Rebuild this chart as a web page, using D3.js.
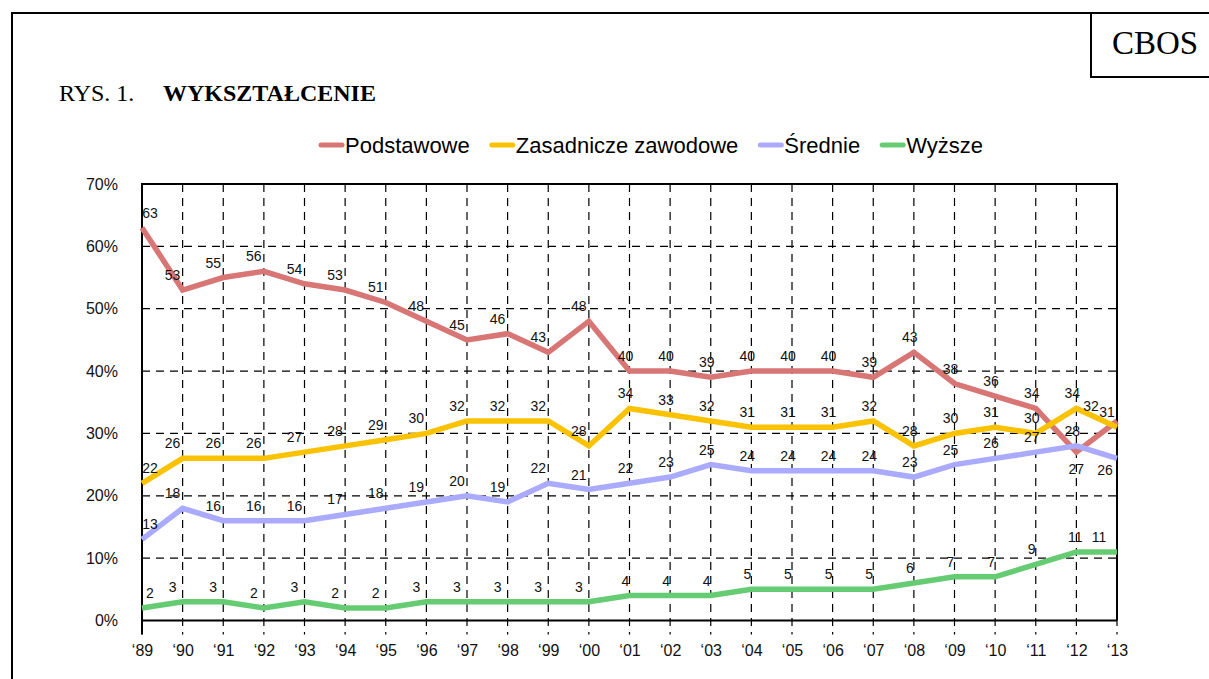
<!DOCTYPE html>
<html>
<head>
<meta charset="utf-8">
<script src="https://cdn.jsdelivr.net/npm/d3@7"></script>
<style>
  body { margin: 0; background: #fff; }
  svg { display: block; }
</style>
</head>
<body>
<div class="svg-container"></div>
<script>
// data
const years = ["‘89","‘90","‘91","‘92","‘93","‘94","‘95","‘96","‘97","‘98","‘99","‘00",
  "‘01","‘02","‘03","‘04","‘05","‘06","‘07","‘08","‘09","‘10","‘11","‘12","‘13"];
const podstawowe = [63,53,55,56,54,53,51,48,45,46,43,48,40,40,39,40,40,40,39,43,38,36,34,27,32];
const zasadnicze = [22,26,26,26,27,28,29,30,32,32,32,28,34,33,32,31,31,31,32,28,30,31,30,34,31];
const srednie    = [13,18,16,16,16,17,18,19,20,19,22,21,22,23,25,24,24,24,24,23,25,26,27,28,26];
const wyzsze     = [2,3,3,2,3,2,2,3,3,3,3,3,4,4,4,5,5,5,5,6,7,7,9,11,11];
const seriesNames = ["Podstawowe", "Zasadnicze zawodowe", "Średnie", "Wyższe"];
const yTicks = [0, 10, 20, 30, 40, 50, 60, 70];

const colors = ["#d87575", "#fac200", "#aaaaff", "#66cc73"];
const seriesValues = [podstawowe, zasadnicze, srednie, wyzsze];

const w = 1209, h = 679;
const margin = {top: 184, right: 92, bottom: 58, left: 142};

const svg = d3.select(".svg-container").append("svg")
  .attr("width", w).attr("height", h);

// outer frame + CBOS box
svg.append("path").attr("d", d3.line()([[12, h + 5], [12, 13], [w + 5, 13]]))
  .style("fill", "none").style("stroke", "#000").style("stroke-width", 2);
svg.append("rect").attr("x", 1091).attr("y", 13).attr("width", 130).attr("height", 64)
  .style("fill", "none").style("stroke", "#000").style("stroke-width", 2);
svg.append("text").attr("x", 1155).attr("y", 54).attr("text-anchor", "middle")
  .style("font-family", "Liberation Serif").style("font-size", "33px").text("CBOS");

// title
const title = svg.append("text").attr("x", 59).attr("y", 101)
  .style("font-family", "Liberation Serif").style("font-size", "24px");
title.append("tspan").text("RYS. 1.");
title.append("tspan").attr("x", 163).style("font-weight", "bold").text("WYKSZTAŁCENIE");

const x = d3.scalePoint().domain(years).range([margin.left, w - margin.right]);
const y = d3.scaleLinear().domain([0, 70]).range([h - margin.bottom - 0.5, margin.top]);

const g = svg.append("g");

// grid
g.selectAll(".vgrid").data(years).enter().append("line")
  .attr("x1", d => x(d)).attr("x2", d => x(d))
  .attr("y1", y(70)).attr("y2", y(0) + 14)
  .style("stroke", "#000").style("stroke-width", 1.2).style("stroke-dasharray", "8,6");
g.selectAll(".hgrid").data(yTicks.slice(1, -1)).enter().append("line")
  .attr("x1", x(years[0])).attr("x2", x(years[years.length - 1]))
  .attr("y1", d => y(d)).attr("y2", d => y(d))
  .style("stroke", "#000").style("stroke-width", 1.2).style("stroke-dasharray", "8,6");

// frame of the plot
g.append("path")
  .attr("d", d3.line()([[x(years[0]), y(0) + 14], [x(years[0]), y(70)],
    [x(years[years.length - 1]), y(70)], [x(years[years.length - 1]), y(0)]]))
  .style("fill", "none").style("stroke", "#000").style("stroke-width", 2);
g.append("line").attr("x1", x(years[0])).attr("x2", x(years[years.length - 1]))
  .attr("y1", y(0)).attr("y2", y(0)).style("stroke", "#000").style("stroke-width", 2);

// axes labels
const yAxis = d3.axisLeft(y).tickValues(yTicks).tickFormat(d => d + "%").tickSize(0).tickPadding(24);
const ya = g.append("g").attr("transform", `translate(${x(years[0])},0)`).call(yAxis);
ya.select(".domain").remove();
ya.selectAll("text").style("font-family", "Liberation Sans").style("font-size", "16px").attr("fill", "#111");

const xAxis = d3.axisBottom(x).tickSize(0).tickPadding(24);
const xa = g.append("g").attr("transform", `translate(0,${y(0)})`).call(xAxis);
xa.select(".domain").remove();
xa.selectAll("text").style("font-family", "Liberation Sans").style("font-size", "16px").attr("fill", "#111");

// lines
const line = d3.line().x((d, i) => x(years[i])).y(d => y(d));
seriesValues.forEach((vals, s) => {
  g.append("path").attr("d", line(vals))
    .style("fill", "none").style("stroke", colors[s]).style("stroke-width", 5.5)
    .style("stroke-linejoin", "miter");
});

// value labels
const labelShift = {
  "0|23": {dx: 0, dy: 22}, "0|24": {dx: -26, dy: -10},
  "1|24": {dx: -10, dy: -10}, "2|24": {dx: -12, dy: 17},
  "3|23": {dx: -1, dy: -10}, "3|24": {dx: -18, dy: -10}
};
function baseDx(i) {
  if (i === 0) return 8;
  if (i <= 11) return -10;
  return -4;
}
seriesValues.forEach((vals, s) => {
  g.selectAll(".lab" + s).data(vals).enter().append("text")
    .attr("x", (d, i) => x(years[i]) + (labelShift[s + "|" + i] ? labelShift[s + "|" + i].dx : baseDx(i)))
    .attr("y", (d, i) => y(d) + (labelShift[s + "|" + i] ? labelShift[s + "|" + i].dy : -10))
    .attr("text-anchor", "middle")
    .style("font-family", "Liberation Sans").style("font-size", "14px").attr("fill", "#111")
    .text(d => d);
});

// legend
const legend = svg.append("g").attr("transform", "translate(320,145)");
let lx = 0;
seriesNames.forEach((name, s) => {
  legend.append("line").attr("x1", lx + 1).attr("x2", lx + 22).attr("y1", 0).attr("y2", 0)
    .style("stroke", colors[s]).style("stroke-width", 5).style("stroke-linecap", "round");
  const t = legend.append("text").attr("x", lx + 25).attr("y", 8)
    .style("font-family", "Liberation Sans").style("font-size", "22px").attr("fill", "#000")
    .text(name);
  lx += 25 + t.node().getComputedTextLength() + 21;
});
</script>
</body>
</html>
